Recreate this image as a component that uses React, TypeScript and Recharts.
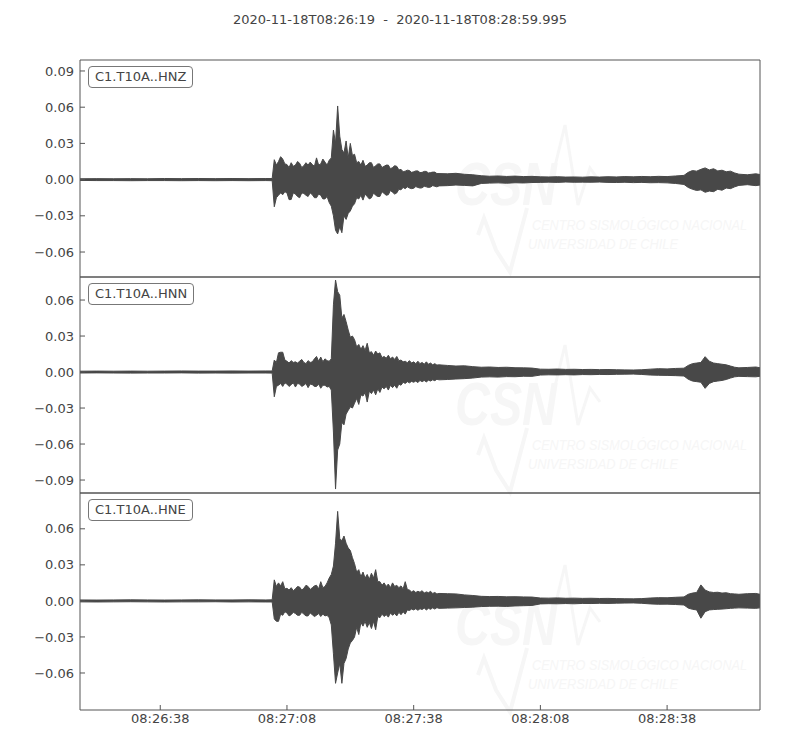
import { ComposedChart, Area, XAxis, YAxis } from "recharts";

// seconds after 08:26:19
const TIME = [
  0, 4, 8, 12, 16, 20, 24, 28, 32, 36, 40, 44, 45.5,
  46, 46.5, 47, 47.5, 48, 48.5, 49, 49.5, 50, 50.5,
  51, 51.5, 52, 52.5, 53, 53.5, 54, 54.5, 55, 55.5,
  56, 56.5, 57, 57.5, 58, 58.5, 59, 59.5, 60, 60.5,
  61, 61.5, 62, 62.5, 63, 63.5, 64, 64.5, 65, 65.5,
  66, 66.5, 67, 67.5, 68, 68.5, 69, 69.5, 70, 70.5,
  71, 71.5, 72, 72.5, 73, 73.5, 74, 74.5, 75, 75.5,
  76, 76.5, 77, 77.5, 78, 78.5, 79, 79.5, 80, 80.5,
  81, 81.5, 82, 82.5, 83, 83.5, 84, 84.5, 85,
  87, 89, 91, 93, 95, 97, 99, 101, 103, 105, 107, 109, 111, 113, 115, 117, 119, 121, 123, 125, 127, 129, 131, 133, 135, 137, 139, 141, 143,
  144, 145, 146, 147, 148, 149, 150, 151, 152, 153, 154, 155, 156,
  158, 160, 161,
];

const HNZ_HI = [
  0.0007, 0.0008, 0.0007, 0.0008, 0.0007, 0.0009, 0.0008, 0.0009, 0.0008, 0.0009, 0.0008, 0.0009, 0.0009,
  0.0165, 0.012, 0.015, 0.019, 0.017, 0.013, 0.0125, 0.01, 0.014, 0.011,
  0.012, 0.015, 0.0135, 0.01, 0.0115, 0.014, 0.012, 0.0145, 0.0125, 0.011,
  0.018, 0.012, 0.013, 0.017, 0.0145, 0.012, 0.016, 0.018, 0.041, 0.03,
  0.061, 0.036, 0.025, 0.022, 0.032, 0.018, 0.03, 0.02, 0.021, 0.014,
  0.015, 0.012, 0.016, 0.011, 0.012, 0.014, 0.014, 0.01, 0.0115, 0.013,
  0.013, 0.01, 0.011, 0.012, 0.012, 0.009, 0.01, 0.0115, 0.011, 0.008,
  0.0085, 0.0065, 0.007, 0.0078, 0.0075, 0.006, 0.0065, 0.0072, 0.0072, 0.0058,
  0.006, 0.0068, 0.0068, 0.0055, 0.0058, 0.0062, 0.0062, 0.005, 0.005,
  0.0048, 0.0052, 0.0044, 0.004, 0.0032, 0.0028, 0.003, 0.0026, 0.0029, 0.0025, 0.0027, 0.0023, 0.0022, 0.0024, 0.0021, 0.0022, 0.002, 0.0023, 0.0021, 0.0024, 0.0022, 0.0025, 0.0023, 0.0026, 0.0024, 0.0027, 0.0025, 0.003, 0.0035,
  0.006, 0.0075, 0.007, 0.0085, 0.0097, 0.008, 0.009, 0.0072, 0.0078, 0.0065, 0.007, 0.0055, 0.0045,
  0.004, 0.0048, 0.0042,
];
const HNZ_LO = [
  -0.0007, -0.0008, -0.0008, -0.0009, -0.0008, -0.0008, -0.0009, -0.0008, -0.0009, -0.0008, -0.0009, -0.0008, -0.0009,
  -0.0225, -0.015, -0.013, -0.011, -0.0125, -0.01, -0.011, -0.0166, -0.0165, -0.011,
  -0.012, -0.014, -0.015, -0.011, -0.0115, -0.013, -0.014, -0.011, -0.0125, -0.015,
  -0.015, -0.012, -0.013, -0.016, -0.016, -0.014, -0.019, -0.022, -0.03, -0.042,
  -0.045, -0.039, -0.044, -0.03, -0.033, -0.028, -0.026, -0.022, -0.02, -0.015,
  -0.016, -0.013, -0.017, -0.012, -0.014, -0.016, -0.015, -0.011, -0.013, -0.014,
  -0.014, -0.01, -0.0115, -0.013, -0.0125, -0.009, -0.0105, -0.012, -0.011, -0.008,
  -0.0085, -0.0065, -0.0075, -0.006, -0.007, -0.0075, -0.0072, -0.0058, -0.0065, -0.007,
  -0.0068, -0.0055, -0.006, -0.0065, -0.0062, -0.005, -0.0055, -0.006, -0.0052,
  -0.005, -0.0045, -0.0048, -0.0052, -0.0032, -0.0029, -0.0027, -0.003, -0.0026, -0.0028, -0.0024, -0.0023, -0.0021, -0.0023, -0.002, -0.0022, -0.0021, -0.0022, -0.002, -0.0023, -0.0024, -0.0022, -0.0025, -0.0023, -0.0026, -0.0025, -0.0027, -0.0032, -0.004,
  -0.0065, -0.008, -0.009, -0.0085, -0.0105, -0.0095, -0.01, -0.008, -0.0088, -0.007, -0.0075, -0.006, -0.0048,
  -0.0042, -0.005, -0.0045,
];

const HNN_HI = [
  0.0007, 0.0008, 0.0007, 0.0008, 0.0007, 0.0008, 0.0009, 0.0008, 0.0008, 0.0009, 0.0008, 0.0009, 0.0009,
  0.01, 0.008, 0.016, 0.0165, 0.0165, 0.01, 0.009, 0.0075, 0.0095, 0.008,
  0.0085, 0.0075, 0.009, 0.0105, 0.008, 0.007, 0.0095, 0.008, 0.0085, 0.011,
  0.013, 0.009, 0.0125, 0.0085, 0.011, 0.0095, 0.009, 0.011, 0.056, 0.0767,
  0.067, 0.064, 0.045, 0.048, 0.042, 0.035, 0.029, 0.03, 0.027, 0.021,
  0.023, 0.019, 0.022, 0.018, 0.024, 0.016, 0.017, 0.014, 0.0175, 0.015,
  0.016, 0.012, 0.013, 0.0115, 0.014, 0.011, 0.0125, 0.0105, 0.013, 0.0095,
  0.01, 0.0085, 0.009, 0.0078, 0.0095, 0.0075, 0.0085, 0.007, 0.009, 0.007,
  0.008, 0.0065, 0.0085, 0.0065, 0.0075, 0.006, 0.007, 0.0058, 0.006,
  0.0055, 0.005, 0.0052, 0.0045, 0.004, 0.0042, 0.0038, 0.004, 0.0036, 0.0035, 0.0033, 0.0024, 0.0023, 0.0025, 0.0022, 0.0023, 0.0021, 0.0022, 0.002, 0.0021, 0.0019, 0.0018, 0.0017, 0.0019, 0.0024, 0.0028, 0.0026, 0.003, 0.0032,
  0.0055, 0.007, 0.0075, 0.008, 0.0128, 0.009, 0.0075, 0.007, 0.0065, 0.006, 0.005, 0.004, 0.0035,
  0.0038, 0.0042, 0.0036,
];
const HNN_LO = [
  -0.0008, -0.0007, -0.0008, -0.0009, -0.0008, -0.0008, -0.0007, -0.0009, -0.0008, -0.0009, -0.0008, -0.0008, -0.0009,
  -0.0206, -0.012, -0.011, -0.0095, -0.012, -0.009, -0.01, -0.012, -0.0105, -0.009,
  -0.0125, -0.0095, -0.01, -0.012, -0.011, -0.0095, -0.013, -0.01, -0.0105, -0.012,
  -0.012, -0.01, -0.0135, -0.011, -0.011, -0.0125, -0.012, -0.015, -0.05, -0.0975,
  -0.065, -0.06, -0.042, -0.044, -0.035, -0.032, -0.029, -0.03, -0.026, -0.022,
  -0.027, -0.019, -0.02, -0.017, -0.025, -0.016, -0.018, -0.015, -0.019, -0.014,
  -0.017, -0.0125, -0.014, -0.012, -0.015, -0.011, -0.013, -0.011, -0.0135, -0.01,
  -0.011, -0.0085, -0.0095, -0.008, -0.009, -0.0078, -0.0085, -0.0075, -0.0088, -0.007,
  -0.008, -0.007, -0.0082, -0.0068, -0.0075, -0.0065, -0.0072, -0.006, -0.0065,
  -0.0062, -0.0058, -0.0055, -0.005, -0.0042, -0.004, -0.0042, -0.0038, -0.0039, -0.0035, -0.0036, -0.0025, -0.0023, -0.0024, -0.0022, -0.0024, -0.0021, -0.0022, -0.002, -0.0021, -0.0019, -0.0018, -0.0017, -0.002, -0.0025, -0.0027, -0.0028, -0.003, -0.0033,
  -0.006, -0.0075, -0.008, -0.0085, -0.0136, -0.0095, -0.008, -0.0075, -0.007, -0.0062, -0.005, -0.004, -0.0036,
  -0.0038, -0.004, -0.0035,
];

const HNE_HI = [
  0.0008, 0.0007, 0.0008, 0.0009, 0.0008, 0.0007, 0.0008, 0.0009, 0.0008, 0.0008, 0.0009, 0.0008, 0.0009,
  0.0175, 0.012, 0.015, 0.0125, 0.016, 0.01, 0.0105, 0.009, 0.011, 0.0085,
  0.01, 0.012, 0.0115, 0.009, 0.0105, 0.013, 0.012, 0.0095, 0.011, 0.0125,
  0.013, 0.01, 0.016, 0.011, 0.012, 0.015, 0.019, 0.022, 0.029, 0.048,
  0.0745, 0.052, 0.05, 0.054, 0.048, 0.044, 0.042, 0.036, 0.031, 0.024,
  0.026, 0.02, 0.024, 0.019, 0.022, 0.018, 0.023, 0.019, 0.026, 0.016,
  0.016, 0.013, 0.015, 0.012, 0.014, 0.011, 0.015, 0.012, 0.013, 0.011,
  0.0125, 0.01, 0.016, 0.0095, 0.009, 0.0075, 0.0085, 0.007, 0.008, 0.0072,
  0.0085, 0.0065, 0.0075, 0.0068, 0.008, 0.0062, 0.007, 0.0058, 0.0062,
  0.006, 0.0058, 0.005, 0.0045, 0.0038, 0.0036, 0.0037, 0.0034, 0.0035, 0.0033, 0.0032, 0.0024, 0.0023, 0.0025, 0.0022, 0.0023, 0.0021, 0.0022, 0.002, 0.0021, 0.0019, 0.0018, 0.0017, 0.0019, 0.0024, 0.0027, 0.0026, 0.003, 0.0033,
  0.0055, 0.0065, 0.007, 0.0133, 0.009, 0.0075, 0.007, 0.0072, 0.0065, 0.0068, 0.006, 0.0058, 0.0055,
  0.006, 0.0062, 0.0055,
];
const HNE_LO = [
  -0.0008, -0.0009, -0.0008, -0.0007, -0.0008, -0.0009, -0.0008, -0.0008, -0.0007, -0.0009, -0.0008, -0.0009, -0.0009,
  -0.015, -0.017, -0.017, -0.011, -0.012, -0.009, -0.01, -0.0125, -0.0115, -0.0095,
  -0.0105, -0.012, -0.012, -0.0095, -0.011, -0.0125, -0.0125, -0.01, -0.0115, -0.013,
  -0.012, -0.0105, -0.013, -0.011, -0.0125, -0.012, -0.014, -0.02, -0.044, -0.0686,
  -0.06, -0.052, -0.0686, -0.052, -0.048, -0.04, -0.035, -0.033, -0.03, -0.022,
  -0.028, -0.018, -0.021, -0.017, -0.022, -0.018, -0.023, -0.017, -0.024, -0.013,
  -0.014, -0.011, -0.013, -0.0115, -0.0135, -0.01, -0.012, -0.0105, -0.0125, -0.0095,
  -0.0115, -0.009, -0.011, -0.0075, -0.008, -0.0068, -0.0075, -0.0065, -0.0078, -0.0065,
  -0.0072, -0.006, -0.0075, -0.0062, -0.007, -0.0058, -0.0068, -0.0056, -0.0062,
  -0.006, -0.0058, -0.0055, -0.0052, -0.0047, -0.0045, -0.0044, -0.0046, -0.0042, -0.004, -0.0038, -0.0025, -0.0023, -0.0024, -0.0022, -0.0024, -0.0021, -0.0022, -0.002, -0.0021, -0.0019, -0.0018, -0.0017, -0.002, -0.0025, -0.0028, -0.0027, -0.003, -0.0034,
  -0.006, -0.007, -0.0075, -0.0144, -0.009, -0.0075, -0.0072, -0.007, -0.0068, -0.0065, -0.0062, -0.006, -0.0058,
  -0.006, -0.0062, -0.0058,
];

const TIME_TICKS = [19, 49, 79, 109, 139];
const TIME_LABELS = ["08:26:38", "08:27:08", "08:27:38", "08:28:08", "08:28:38"];
const TICKS_Z = [-0.06, -0.03, 0, 0.03, 0.06, 0.09];
const TICKS_N = [-0.09, -0.06, -0.03, 0, 0.03, 0.06];
const TICKS_E = [-0.06, -0.03, 0, 0.03, 0.06];
const TITLE = "2020-11-18T08:26:19  -  2020-11-18T08:28:59.995";

const WAVE = "#484848";
const FRAME = "#555";
const TEXT = "#444";
const FONT = "'DejaVu Sans', sans-serif";
const WM = "#f6f6f6";

const rows = TIME.map((t, i) => ({
  t,
  z: [HNZ_LO[i], HNZ_HI[i]],
  n: [HNN_LO[i], HNN_HI[i]],
  e: [HNE_LO[i], HNE_HI[i]],
}));

const fmtY = (v: number) => (v < 0 ? "\u2212" : "") + Math.abs(v).toFixed(2);
const fmtT = (v: number) => TIME_LABELS[TIME_TICKS.indexOf(v)] ?? "";

const tickStyle = { fill: TEXT, fontSize: 13, fontFamily: FONT };

function Panel({ top, height, dataKey, domain, ticks, label, showTime }: any) {
  const axisH = showTime ? 40 : 1;
  return (
    <div style={{ position: "absolute", left: 0, top: top - 1 }}>
      <ComposedChart
        width={800}
        height={height + 1 + axisH}
        data={rows}
        margin={{ top: 0, right: 0, bottom: 0, left: 0 }}
      >
        <XAxis
          dataKey="t"
          type="number"
          domain={[0, 160.995]}
          allowDataOverflow
          ticks={TIME_TICKS}
          interval={0}
          tickFormatter={fmtT}
          tick={showTime ? tickStyle : false}
          height={axisH}
          tickSize={-5}
          tickMargin={9}
          axisLine={{ stroke: FRAME }}
          tickLine={{ stroke: FRAME }}
        />
        <XAxis
          xAxisId="top"
          orientation="top"
          dataKey="t"
          type="number"
          domain={[0, 160.995]}
          allowDataOverflow
          ticks={TIME_TICKS}
          interval={0}
          tick={false}
          height={1}
          tickSize={-5}
          axisLine={{ stroke: FRAME }}
          tickLine={{ stroke: FRAME }}
        />
        <YAxis
          type="number"
          domain={domain}
          allowDataOverflow
          ticks={ticks}
          interval={0}
          tickFormatter={fmtY}
          tick={tickStyle}
          width={80}
          tickSize={-5}
          tickMargin={11}
          axisLine={{ stroke: FRAME }}
          tickLine={{ stroke: FRAME }}
        />
        <YAxis
          yAxisId="right"
          orientation="right"
          type="number"
          domain={domain}
          allowDataOverflow
          ticks={ticks}
          interval={0}
          tick={false}
          width={40}
          tickSize={-5}
          axisLine={{ stroke: FRAME }}
          tickLine={{ stroke: FRAME }}
        />
        <Area
          dataKey={dataKey}
          type="linear"
          stroke={WAVE}
          strokeWidth={1}
          fill={WAVE}
          fillOpacity={1}
          dot={false}
          activeDot={false}
          isAnimationActive={false}
        />
      </ComposedChart>
      <div
        style={{
          position: "absolute",
          left: 88,
          top: 7,
          padding: "2px 6px",
          lineHeight: "16px",
          fontSize: 13,
          fontFamily: FONT,
          color: TEXT,
          border: "1px solid #777",
          borderRadius: 4,
          background: "#fff",
        }}
      >
        {label}
      </div>
    </div>
  );
}

function Watermark({ dy }: { dy: number }) {
  return (
    <g transform={`translate(0, ${dy})`} fill={WM} stroke="none">
      <text x={455} y={205} fontSize={62} fontWeight="bold" fontStyle="italic" fontFamily="'Liberation Sans', sans-serif" textLength={102} lengthAdjust="spacingAndGlyphs">
        CSN
      </text>
      <polyline points="548,195 565,125 578,205 590,168 600,182" fill="none" stroke={WM} strokeWidth={3} />
      <polyline points="478,235 484,218 496,250 510,272 527,208" fill="none" stroke={WM} strokeWidth={4} />
      <text x={532} y={230} fontSize={14} fontStyle="italic" fontFamily="'Liberation Sans Narrow', 'Liberation Sans', sans-serif" textLength={215} lengthAdjust="spacingAndGlyphs">
        CENTRO SISMOLÓGICO NACIONAL
      </text>
      <text x={528} y={249} fontSize={14} fontStyle="italic" fontFamily="'Liberation Sans Narrow', 'Liberation Sans', sans-serif" textLength={150} lengthAdjust="spacingAndGlyphs">
        UNIVERSIDAD DE CHILE
      </text>
    </g>
  );
}

export default function App() {
  return (
    <div style={{ position: "absolute", left: 0, top: 0, width: 800, height: 750, background: "#fff", fontFamily: FONT }}>
      <svg width={800} height={750} style={{ position: "absolute", left: 0, top: 0 }}>
        <Watermark dy={0} />
        <Watermark dy={220} />
        <Watermark dy={440} />
      </svg>
      <div
        style={{
          position: "absolute",
          left: 0,
          width: 800,
          top: 12,
          textAlign: "center",
          fontSize: 13,
          lineHeight: "16px",
          color: TEXT,
          whiteSpace: "pre",
        }}
      >
        {TITLE}
      </div>
      <Panel top={60} height={217} dataKey="z" domain={[-0.0807, 0.0991]} ticks={TICKS_Z} label="C1.T10A..HNZ" />
      <Panel top={277} height={216} dataKey="n" domain={[-0.1008, 0.0792]} ticks={TICKS_N} label="C1.T10A..HNN" />
      <Panel top={493} height={217} dataKey="e" domain={[-0.0908, 0.0898]} ticks={TICKS_E} label="C1.T10A..HNE" showTime />
    </div>
  );
}
